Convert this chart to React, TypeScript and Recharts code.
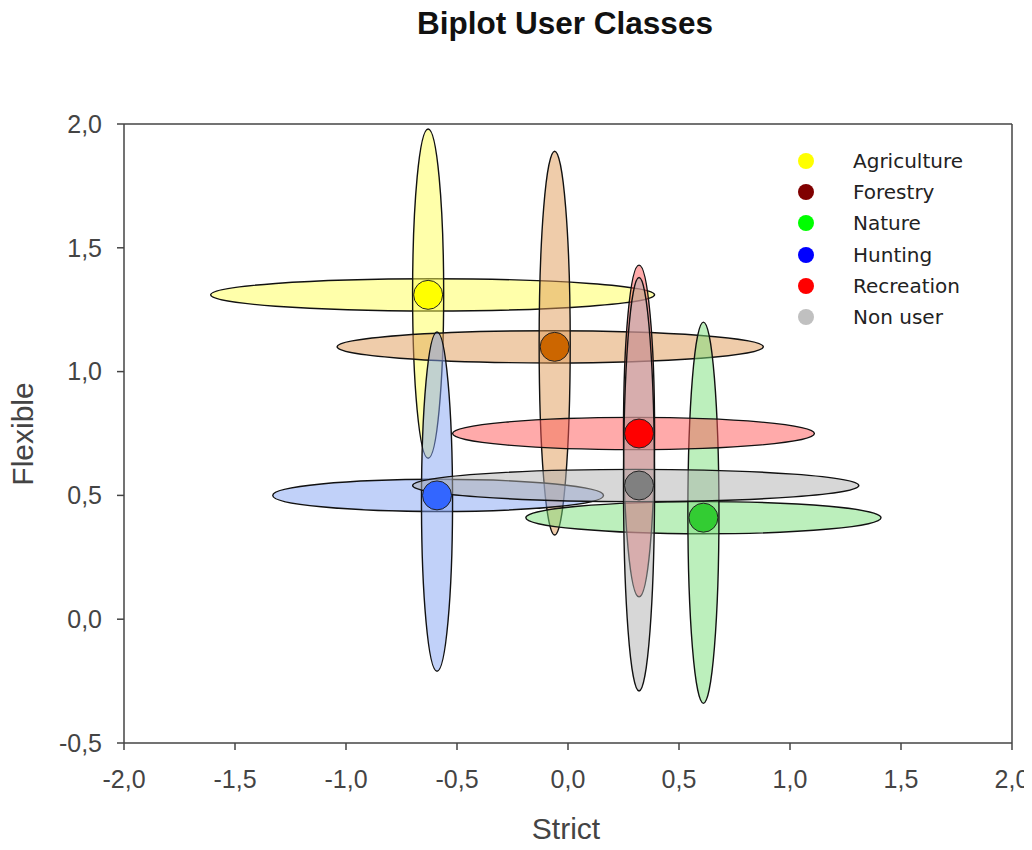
import {
  ScatterChart, Scatter, XAxis, YAxis, ReferenceArea, ReferenceLine, Legend,
} from 'recharts'

const classes = ['Agriculture', 'Forestry', 'Nature', 'Hunting', 'Recreation', 'Non user']
const strict = [-0.63, -0.06, 0.61, -0.59, 0.32, 0.32]
const flexible = [1.31, 1.1, 0.41, 0.5, 0.75, 0.54]
// spread of each class along the two axes (ellipse ends)
const strictLo = [-1.61, -1.04, -0.19, -1.33, -0.52, -0.70]
const strictHi = [0.39, 0.88, 1.41, 0.16, 1.11, 1.31]
const flexLo = [0.65, 0.34, -0.34, -0.21, 0.09, -0.29]
const flexHi = [1.98, 1.89, 1.2, 1.16, 1.43, 1.38]
const ticksX = [-2, -1.5, -1, -0.5, 0, 0.5, 1, 1.5, 2]
const ticksY = [-0.5, 0, 0.5, 1, 1.5, 2]

const dotColors = ['#FFFF00', '#CC6600', '#33CC33', '#3366FF', '#FF0000', '#808080']
const legendColors = ['#FFFF00', '#800000', '#00FF00', '#0000FF', '#FF0000', '#C0C0C0']
const fillColors = ['#FFFF55', '#E09A55', '#7ADF7A', '#83A3F3', '#FF5555', '#B0B0B0']

const BAND_X = 0.07
const BAND_Y = 0.065
const ARIAL = '"Liberation Sans", Arial, sans-serif'
const LEGEND_FONT = '"DejaVu Sans", Tahoma, sans-serif'

const points = classes.map((name, i) => ({
  name, x: strict[i], y: flexible[i], color: dotColors[i],
}))

const fmt = (v: number) => v.toFixed(1).replace('.', ',')

const ellipse = (fill: string) => (p: any) => (
  <ellipse
    cx={p.x + p.width / 2} cy={p.y + p.height / 2}
    rx={Math.abs(p.width) / 2} ry={Math.abs(p.height) / 2}
    fill={fill} fillOpacity={0.5} stroke="#111" strokeWidth={1.4}
  />
)

const renderLegend = () => (
  <div style={{ fontFamily: LEGEND_FONT, fontSize: 20, color: '#222' }}>
    {classes.map((c, i) => (
      <div key={c} style={{ display: 'flex', alignItems: 'center', height: 31.3 }}>
        <span style={{
          width: 16, height: 16, borderRadius: 8, background: legendColors[i],
          display: 'inline-block', marginRight: 39,
        }} />
        <span>{c}</span>
      </div>
    ))}
  </div>
)

export default function App() {
  return (
    <div style={{ position: 'relative', width: 1024, height: 834, fontFamily: ARIAL }}>
      <div style={{
        position: 'absolute', top: -3, left: 0, width: 1114, textAlign: 'center',
        fontSize: 31.5, fontWeight: 700, color: '#111',
      }}>
        Biplot User Classes
      </div>
      <div style={{
        position: 'absolute', top: 804, left: 0, width: 1116, textAlign: 'center',
        fontSize: 30, color: '#444', lineHeight: 'normal',
      }}>
        Strict
      </div>
      <div style={{ position: 'absolute', top: 426, left: 15, width: 0, height: 0 }}>
        <div style={{
          position: 'absolute', transform: 'translate(-50%, -50%) rotate(-90deg)',
          fontSize: 30, color: '#444', whiteSpace: 'nowrap',
        }}>
          Flexible
        </div>
      </div>

      <ScatterChart
        width={1024} height={834} style={{ overflow: 'visible' }}
        margin={{ top: 116, right: 20, left: 0, bottom: 39 }}
      >
        <XAxis
          type="number" dataKey="x" domain={[-2, 2]} ticks={ticksX} tickFormatter={fmt}
          height={60} stroke="#444" strokeWidth={1.5} tickSize={7} tickMargin={20}
          tick={{ fill: '#444', fontSize: 25, fontFamily: ARIAL }} allowDataOverflow
        />
        <YAxis
          type="number" dataKey="y" domain={[-0.5, 2]} ticks={ticksY} tickFormatter={fmt}
          width={116} stroke="#444" strokeWidth={1.5} tickSize={7} tickMargin={15}
          tick={{ fill: '#444', fontSize: 25, fontFamily: ARIAL }} allowDataOverflow
        />
        <ReferenceLine y={2} stroke="#444" strokeWidth={1.5} />
        <ReferenceLine x={2} stroke="#444" strokeWidth={1.5} />

        {classes.map((c, i) => [
          <ReferenceArea
            key={c + '-h'} x1={strictLo[i]} x2={strictHi[i]}
            y1={flexible[i] - BAND_Y} y2={flexible[i] + BAND_Y}
            shape={ellipse(fillColors[i])}
          />,
          <ReferenceArea
            key={c + '-v'} x1={strict[i] - BAND_X} x2={strict[i] + BAND_X}
            y1={flexLo[i]} y2={flexHi[i]}
            shape={ellipse(fillColors[i])}
          />,
        ])}

        <Scatter
          data={points} isAnimationActive={false}
          shape={(p: any) => (
            <circle cx={p.cx} cy={p.cy} r={14.5} fill={p.payload.color} stroke="#222" strokeWidth={1} />
          )}
        />

        <Legend
          content={renderLegend} layout="horizontal" verticalAlign="middle"
          wrapperStyle={{ position: 'absolute', top: 137, left: 790, width: 220 }}
        />
      </ScatterChart>
    </div>
  )
}
